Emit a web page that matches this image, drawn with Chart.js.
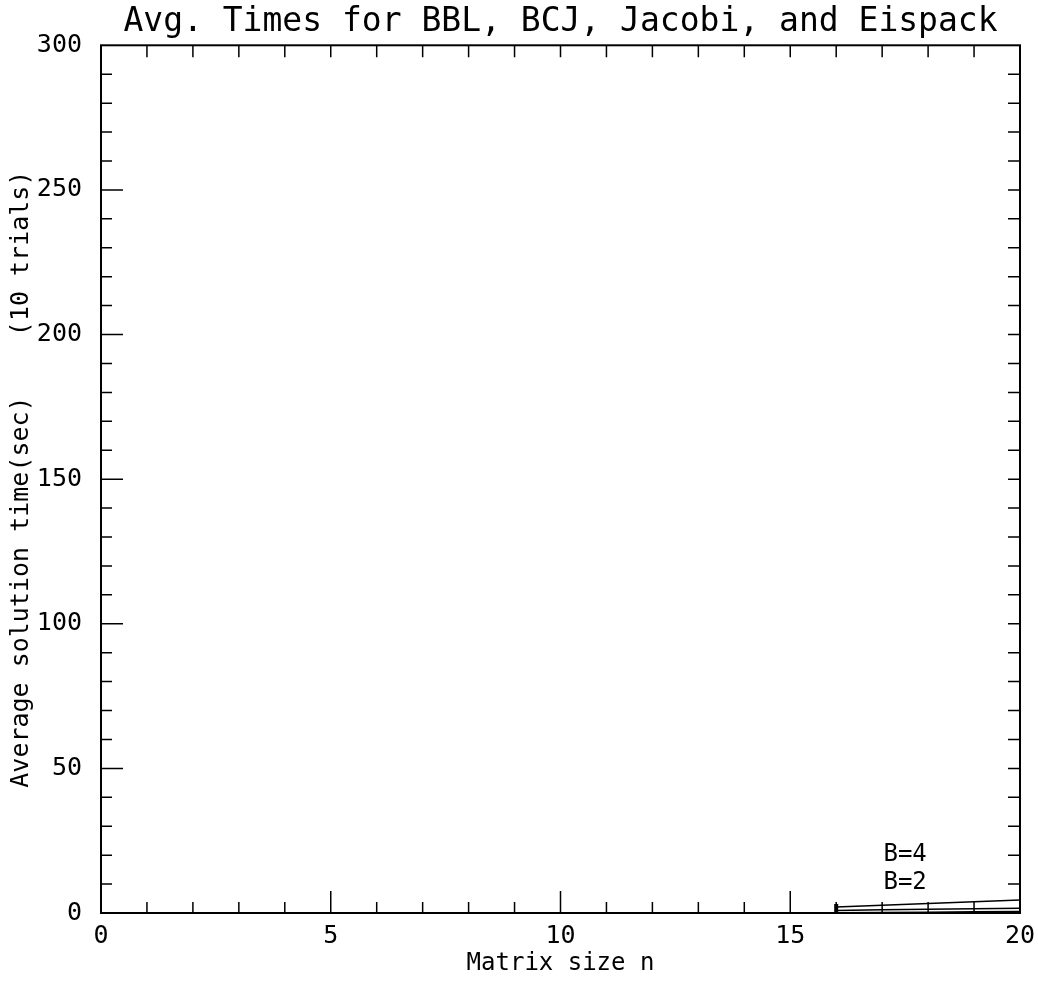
<!DOCTYPE html>
<html lang="en">
<head>
  <meta charset="UTF-8">
  <title>Avg. Times for BBL, BCJ, Jacobi, and Eispack</title>
  <script src="https://cdn.jsdelivr.net/npm/chart.js"></script>
  <style>
    html, body { margin: 0; padding: 0; background: #fff; }
    #wrap { width: 1038px; height: 983px; }
  </style>
</head>
<body>
  <div id="wrap"><canvas id="timesChart"></canvas></div>

  <script>
    // matrix sizes where timings exist
    const sizes = [16, 17, 18, 19, 20];
    // average time (sec) per band size
    const timesB4 = [2.1, 2.7, 3.3, 3.9, 4.5];
    const timesB2 = [0.9, 1.1, 1.3, 1.5, 1.6];
    const timesB1 = [0.1, 0.2, 0.3, 0.4, 0.5];
    const xTicks = [0, 5, 10, 15, 20];
    const yTicks = [0, 50, 100, 150, 200, 250, 300];
    const curveLabels = ['B=4', 'B=2'];
    const labelSpots = [[17.5, 20], [17.5, 10.5]];

    const FONT = "'DejaVu Sans Mono', monospace";

    // box border plus inward ticks on all four sides
    const frameTicks = {
      id: 'frameTicks',
      afterDraw(chart) {
        const { ctx, chartArea: a, scales: { x, y } } = chart;
        ctx.save();
        ctx.strokeStyle = '#000';
        ctx.lineWidth = 2;
        ctx.strokeRect(a.left, a.top, a.right - a.left, a.bottom - a.top);
        ctx.lineWidth = 1.5;
        ctx.beginPath();
        for (let v = 1; v < 20; v++) {
          const px = x.getPixelForValue(v);
          const len = v % 5 === 0 ? 22 : 11;
          ctx.moveTo(px, a.bottom); ctx.lineTo(px, a.bottom - len);
          ctx.moveTo(px, a.top); ctx.lineTo(px, a.top + 12);
        }
        for (let v = 10; v < 300; v += 10) {
          const py = y.getPixelForValue(v);
          const len = v % 50 === 0 ? 22 : 11;
          ctx.moveTo(a.left, py); ctx.lineTo(a.left + len, py);
          ctx.moveTo(a.right, py); ctx.lineTo(a.right - 12, py);
        }
        ctx.stroke();

        // curve labels
        ctx.fillStyle = '#000';
        ctx.font = '24px ' + FONT;
        ctx.textAlign = 'center';
        ctx.textBaseline = 'middle';
        curveLabels.forEach((t, i) => {
          ctx.fillText(t, x.getPixelForValue(labelSpots[i][0]), y.getPixelForValue(labelSpots[i][1]));
        });
        ctx.restore();
      }
    };

    const lineSet = (label, data) => ({
      label,
      data: sizes.map((n, i) => ({ x: n, y: data[i] })),
      borderColor: '#000',
      borderWidth: 1.5,
      pointRadius: 0,
      fill: false,
      tension: 0
    });

    new Chart(document.getElementById('timesChart'), {
      type: 'line',
      data: {
        datasets: [
          lineSet('B=4', timesB4),
          lineSet('B=2', timesB2),
          lineSet('B=1', timesB1),
          {
            label: 'start',
            data: [{ x: 16, y: 1 }],
            showLine: false,
            pointStyle: 'line',
            rotation: 90,
            pointRadius: 6,
            borderWidth: 4,
            borderColor: '#000'
          }
        ]
      },
      options: {
        responsive: true,
        maintainAspectRatio: false,
        animation: false,
        layout: { padding: { left: 0, right: 18, top: 0, bottom: 0 } },
        plugins: {
          legend: { display: false },
          tooltip: { enabled: false },
          title: {
            display: true,
            fullSize: false,
            text: 'Avg. Times for BBL, BCJ, Jacobi, and Eispack',
            color: '#000',
            font: { family: FONT, size: 33, weight: 'normal', lineHeight: 1.1 },
            padding: { top: 4, bottom: 5 }
          }
        },
        scales: {
          x: {
            type: 'linear',
            min: 0,
            max: 20,
            afterBuildTicks: s => { s.ticks = xTicks.map(v => ({ value: v })); },
            afterFit: s => { s.height = 70; },
            grid: { display: false },
            border: { display: false },
            ticks: {
              color: '#000',
              padding: 0,
              maxRotation: 0,
              font: { family: FONT, size: 25 }
            },
            title: {
              display: true,
              text: 'Matrix size n',
              color: '#000',
              padding: { top: 0, bottom: 5 },
              font: { family: FONT, size: 24 }
            }
          },
          y: {
            type: 'linear',
            min: 0,
            max: 300,
            afterBuildTicks: s => { s.ticks = yTicks.map(v => ({ value: v })); },
            afterFit: s => { s.width = 101; },
            grid: { display: false },
            border: { display: false },
            ticks: {
              color: '#000',
              padding: 11,
              font: { family: FONT, size: 25 }
            },
            title: {
              display: true,
              text: 'Average solution time(sec)    (10 trials)',
              color: '#000',
              padding: { top: 6, bottom: 0 },
              font: { family: FONT, size: 25 }
            }
          }
        }
      },
      plugins: [frameTicks]
    });
  </script>
</body>
</html>
